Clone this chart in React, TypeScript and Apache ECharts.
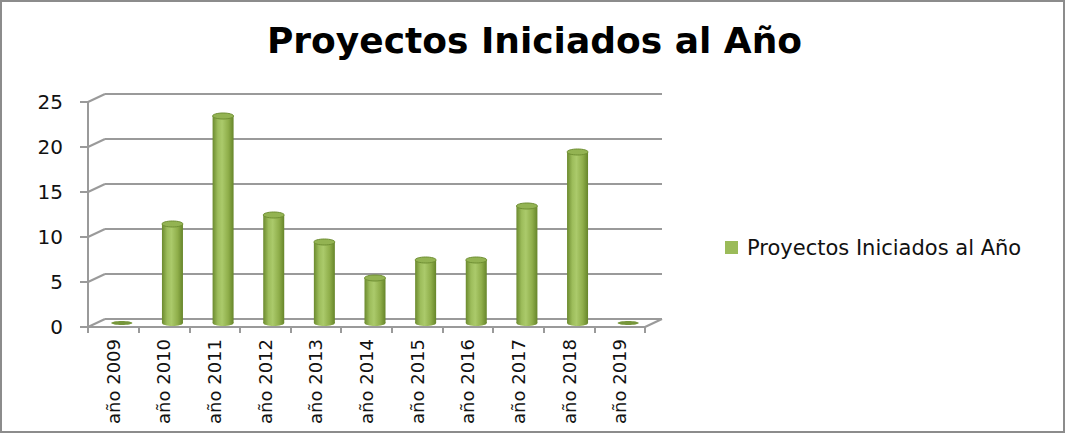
import React, { useEffect, useRef } from "react";
import * as echarts from "echarts";

const categories = [
  "año 2009", "año 2010", "año 2011", "año 2012", "año 2013", "año 2014",
  "año 2015", "año 2016", "año 2017", "año 2018", "año 2019",
];
const values = [0, 11, 23, 12, 9, 5, 7, 7, 13, 19, 0];
const yTicks = [0, 5, 10, 15, 20, 25];
const seriesName = "Proyectos Iniciados al Año";
const titleText = "Proyectos Iniciados al Año";

const FONT = "DejaVu Sans";
const GRAY = "#9a9a9a";
const DX = 17;
const DY = 8;

export default function App() {
  const ref = useRef<HTMLDivElement>(null);

  useEffect(() => {
    if (!ref.current) return;
    const chart = echarts.init(ref.current, null, { renderer: "svg" });

    const cylGrad = () =>
      new echarts.graphic.LinearGradient(0, 0, 1, 0, [
        { offset: 0, color: "#6b8a2e" },
        { offset: 0.25, color: "#9dbd5b" },
        { offset: 0.45, color: "#abca6b" },
        { offset: 0.75, color: "#8fae4a" },
        { offset: 1, color: "#66852a" },
      ]);

    const option: any = {
      animation: false,
      backgroundColor: "#ffffff",
      textStyle: { fontFamily: FONT },
      title: {
        text: titleText,
        left: "center",
        top: 17,
        textStyle: { fontFamily: FONT, fontWeight: "bold", fontSize: 36, color: "#000" },
      },
      legend: {
        left: 725,
        top: 237,
        padding: 0,
        icon: "rect",
        itemWidth: 13,
        itemHeight: 13,
        textStyle: { fontFamily: FONT, fontSize: 21, color: "#111", padding: [0, 0, 0, 4] },
        data: [{ name: seriesName, icon: "rect", itemStyle: { color: "#9bbb59" } }],
      },
      grid: [
        { left: 88, top: 102, width: 557, height: 225 },
        { left: 88 + DX, top: 102 - DY, width: 557, height: 225 },
        { left: 88 + DX / 2, top: 102 - DY / 2, width: 557, height: 225 },
      ],
      xAxis: [
        {
          type: "category",
          gridIndex: 0,
          data: categories,
          axisLine: { show: true, lineStyle: { color: GRAY, width: 2 } },
          axisTick: { show: true, length: 6, lineStyle: { color: GRAY, width: 2 } },
          axisLabel: { rotate: 90, margin: 12, fontSize: 18, fontFamily: FONT, color: "#111", interval: 0 },
          splitLine: { show: false },
        },
        { type: "category", gridIndex: 1, data: categories, show: false },
        { type: "category", gridIndex: 2, data: categories, show: false },
      ],
      yAxis: [
        {
          type: "value",
          gridIndex: 0,
          min: 0,
          max: 25,
          interval: 5,
          axisLine: { show: true, lineStyle: { color: GRAY, width: 2 } },
          axisTick: { show: true, length: 8, lineStyle: { color: GRAY, width: 2 } },
          axisLabel: { margin: 25, fontSize: 20, fontFamily: FONT, color: "#111" },
          splitLine: { show: false },
        },
        {
          type: "value",
          gridIndex: 1,
          min: 0,
          max: 25,
          interval: 5,
          axisLine: { show: false },
          axisTick: { show: false },
          axisLabel: { show: false },
          splitLine: { show: true, lineStyle: { color: GRAY, width: 2 } },
        },
        { type: "value", gridIndex: 2, min: 0, max: 25, interval: 5, show: false, splitLine: { show: false } },
      ],
      series: [
        {
          type: "custom",
          name: "walls",
          xAxisIndex: 1,
          yAxisIndex: 1,
          silent: true,
          data: yTicks.map((v) => [0, v]),
          encode: { x: 0, y: 1 },
          renderItem: (params: any, api: any) => {
            const cs = params.coordSys;
            const v = api.value(1);
            const y = api.coord([0, v])[1];
            const children: any[] = [
              {
                type: "line",
                shape: { x1: cs.x - DX, y1: y + DY, x2: cs.x, y2: y },
                style: { stroke: GRAY, lineWidth: 2 },
              },
            ];
            if (v === 0) {
              children.push({
                type: "line",
                shape: { x1: cs.x + cs.width, y1: y, x2: cs.x + cs.width - DX, y2: y + DY },
                style: { stroke: GRAY, lineWidth: 2 },
              });
            }
            return { type: "group", children };
          },
        },
        {
          type: "custom",
          name: seriesName,
          xAxisIndex: 2,
          yAxisIndex: 2,
          itemStyle: { color: "#9bbb59" },
          data: values.map((v, i) => [i, v]),
          encode: { x: 0, y: 1 },
          renderItem: (params: any, api: any) => {
            const i = api.value(0);
            const v = api.value(1);
            const top = api.coord([i, v]);
            const base = api.coord([i, 0]);
            const rx = 10.5;
            const ry = 3;
            const cx = top[0];
            if (v === 0) {
              return {
                type: "ellipse",
                shape: { cx, cy: base[1], rx, ry: 2 },
                style: { fill: "#76963a" },
              };
            }
            return {
              type: "group",
              children: [
                {
                  type: "ellipse",
                  shape: { cx, cy: base[1], rx, ry },
                  style: { fill: cylGrad() },
                },
                {
                  type: "rect",
                  shape: { x: cx - rx, y: top[1], width: rx * 2, height: base[1] - top[1] },
                  style: { fill: cylGrad() },
                },
                {
                  type: "ellipse",
                  shape: { cx, cy: top[1], rx, ry },
                  style: { fill: "#93b352", stroke: "#6f8f33", lineWidth: 1 },
                },
              ],
            };
          },
        },
      ],
      graphic: [
        {
          type: "rect",
          silent: true,
          shape: { x: 1, y: 1, width: 1063, height: 431 },
          style: { fill: "none", stroke: "#8c8c8c", lineWidth: 2 },
        },
      ],
    };

    chart.setOption(option);
    return () => chart.dispose();
  }, []);

  return (
    <div
      ref={ref}
      style={{ position: "absolute", left: 0, top: 0, width: 1069, height: 434 }}
    />
  );
}
